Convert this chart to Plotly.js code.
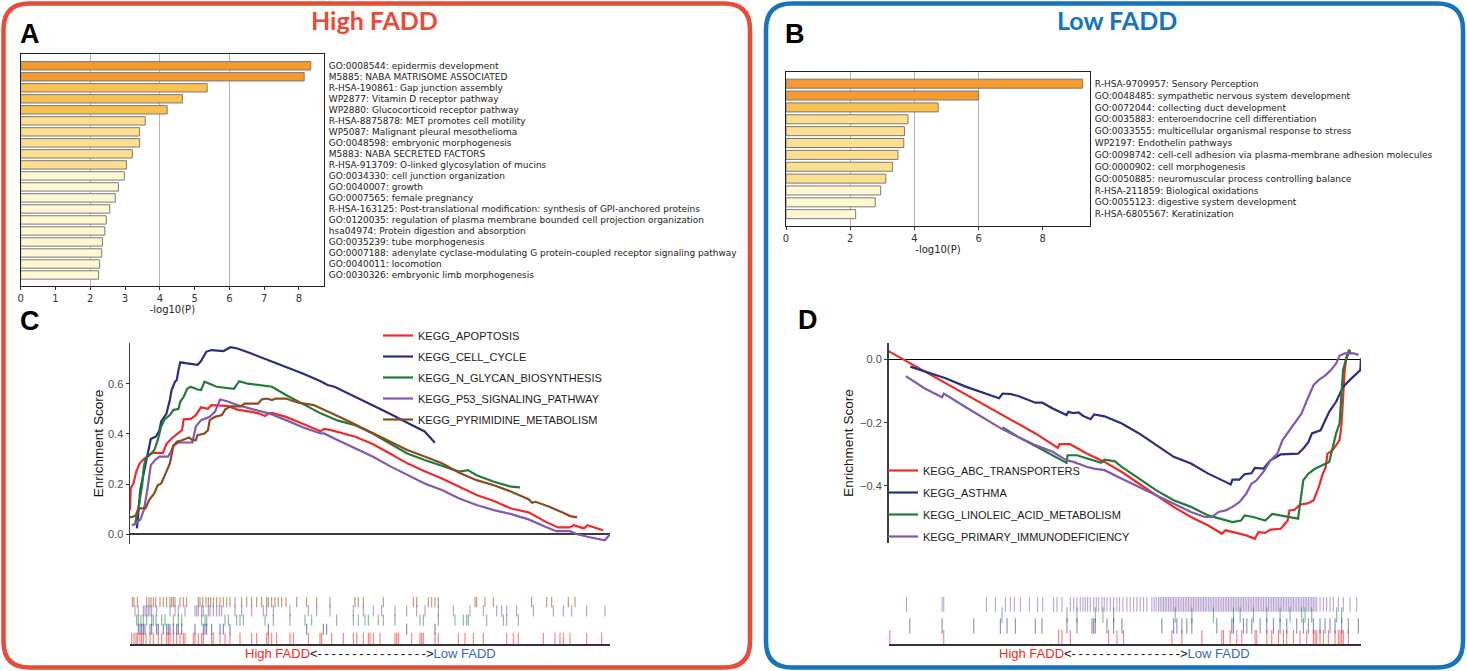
<!DOCTYPE html>
<html><head><meta charset="utf-8">
<script src="https://cdn.plot.ly/plotly-3.0.1.min.js"></script>
<style>html,body{margin:0;padding:0;background:#fff}#chart{width:1467px;height:671px}</style>
</head><body><div id="chart"></div>
<script>
// ---------------- Panel A (High FADD enrichment) ----------------
const aTerms = [
"GO:0008544: epidermis development",
"M5885: NABA MATRISOME ASSOCIATED",
"R-HSA-190861: Gap junction assembly",
"WP2877: Vitamin D receptor pathway",
"WP2880: Glucocorticoid receptor pathway",
"R-HSA-8875878: MET promotes cell motility",
"WP5087: Malignant pleural mesothelioma",
"GO:0048598: embryonic morphogenesis",
"M5883: NABA SECRETED FACTORS",
"R-HSA-913709: O-linked glycosylation of mucins",
"GO:0034330: cell junction organization",
"GO:0040007: growth",
"GO:0007565: female pregnancy",
"R-HSA-163125: Post-translational modification: synthesis of GPI-anchored proteins",
"GO:0120035: regulation of plasma membrane bounded cell projection organization",
"hsa04974: Protein digestion and absorption",
"GO:0035239: tube morphogenesis",
"GO:0007188: adenylate cyclase-modulating G protein-coupled receptor signaling pathway",
"GO:0040011: locomotion",
"GO:0030326: embryonic limb morphogenesis"];
const aLogP = [8.34,8.15,5.36,4.65,4.21,3.58,3.42,3.42,3.21,3.04,2.98,2.81,2.72,2.56,2.46,2.42,2.35,2.33,2.27,2.24];
const aTicks = [0,1,2,3,4,5,6,7,8];

// ---------------- Panel B (Low FADD enrichment) ----------------
const bTerms = [
"R-HSA-9709957: Sensory Perception",
"GO:0048485: sympathetic nervous system development",
"GO:0072044: collecting duct development",
"GO:0035883: enteroendocrine cell differentiation",
"GO:0033555: multicellular organismal response to stress",
"WP2197: Endothelin pathways",
"GO:0098742: cell-cell adhesion via plasma-membrane adhesion molecules",
"GO:0000902: cell morphogenesis",
"GO:0050885: neuromuscular process controlling balance",
"R-HSA-211859: Biological oxidations",
"GO:0055123: digestive system development",
"R-HSA-6805567: Keratinization"];
const bLogP = [9.24,6.00,4.74,3.80,3.69,3.67,3.49,3.32,3.11,2.95,2.78,2.17];
const bTicks = [0,2,4,6,8];

// ---------------- Panel C (GSEA, High FADD) ----------------
const cNames = ["KEGG_APOPTOSIS","KEGG_CELL_CYCLE","KEGG_N_GLYCAN_BIOSYNTHESIS","KEGG_P53_SIGNALING_PATHWAY","KEGG_PYRIMIDINE_METABOLISM"];
const cApopRank = [0,2,10,18,28,40,55,65,95,105,120,135,150,155,175,190,205,225,235,280,310,350,370,390,398,410,450,500,550,560,580,650,700,750,800,850,900,950,1000,1050,1100,1150,1200,1235,1270,1280,1310,1320,1350,1365];
const cApopES = [0.097,0.183,0.203,0.25,0.283,0.30,0.316,0.325,0.325,0.36,0.382,0.40,0.415,0.458,0.46,0.475,0.506,0.50,0.515,0.512,0.497,0.488,0.482,0.471,0.48,0.484,0.468,0.44,0.411,0.42,0.415,0.389,0.36,0.322,0.283,0.252,0.223,0.19,0.157,0.133,0.103,0.088,0.05,0.028,0.028,0.037,0.024,0.037,0.024,0.017];
const cCycleRank = [20,25,30,45,55,60,75,85,90,105,115,120,130,135,140,145,170,195,205,220,235,270,290,310,350,400,450,500,550,570,590,650,700,750,800,850,880];
const cCycleES = [0.024,0.097,0.18,0.28,0.35,0.38,0.39,0.415,0.45,0.48,0.535,0.575,0.608,0.615,0.655,0.685,0.68,0.675,0.69,0.727,0.734,0.73,0.745,0.74,0.72,0.694,0.667,0.64,0.61,0.595,0.588,0.548,0.515,0.48,0.445,0.41,0.365];
const cGlycanRank = [15,25,35,40,45,60,70,80,90,100,115,125,140,145,155,165,175,195,205,215,230,250,300,315,340,370,410,450,500,550,600,650,700,750,800,850,900,950,975,1000,1050,1100,1125];
const cGlycanES = [0.044,0.11,0.196,0.27,0.30,0.32,0.335,0.375,0.43,0.458,0.475,0.495,0.50,0.528,0.548,0.58,0.588,0.577,0.575,0.608,0.60,0.588,0.58,0.61,0.60,0.594,0.588,0.555,0.518,0.482,0.453,0.435,0.402,0.362,0.322,0.296,0.272,0.25,0.256,0.236,0.21,0.19,0.187];
const cP53Rank = [5,15,30,40,50,60,75,85,110,120,125,140,180,190,205,230,245,260,280,310,350,400,450,500,550,560,600,650,700,750,800,850,900,950,1000,1050,1100,1150,1200,1230,1270,1290,1320,1350,1370,1385];
const cP53ES = [0.037,0.041,0.06,0.097,0.177,0.276,0.30,0.31,0.31,0.335,0.355,0.366,0.366,0.43,0.455,0.468,0.488,0.537,0.53,0.515,0.50,0.482,0.455,0.426,0.402,0.402,0.375,0.342,0.31,0.272,0.236,0.203,0.177,0.143,0.117,0.097,0.081,0.06,0.03,0.013,0.013,0.001,-0.009,-0.016,-0.023,0.0];
const cPyrRank = [0,15,25,45,55,70,80,90,105,115,125,135,150,160,170,180,190,195,215,225,230,245,265,275,290,320,330,370,380,395,410,420,450,470,490,530,570,610,650,700,750,800,850,900,950,1000,1050,1100,1150,1160,1170,1210,1250,1270,1290];
const cPyrES = [0.068,0.073,0.104,0.104,0.137,0.163,0.196,0.203,0.25,0.283,0.35,0.369,0.375,0.382,0.386,0.375,0.375,0.395,0.402,0.415,0.455,0.468,0.475,0.498,0.51,0.51,0.521,0.521,0.537,0.541,0.535,0.541,0.541,0.531,0.524,0.515,0.488,0.464,0.438,0.404,0.373,0.336,0.31,0.283,0.246,0.216,0.196,0.17,0.14,0.126,0.13,0.11,0.086,0.073,0.068];
// hit positions (rug) for panel C
const cHitsPyr = [37,42,52,80,87,93,100,107,120,130,140,150,155,160,165,180,190,200,235,240,248,258,265,272,280,290,300,310,320,330,345,365,380,395,410,425,440,445,455,465,475,485,498,530,560,590,630,705,715,730,790,880,890,925,935,945,955,1065,1070,1095,1120,1235,1280,1295,1345,1365];
const cHitsP53 = [45,55,70,75,80,85,90,95,110,150,165,175,195,225,230,235,245,250,265,270,280,290,298,305,345,365,395,430,440,460,510,565,590,630,700,730,760,785,825,860,890,915,955,1000,1050,1090,1130,1145,1160,1190,1240,1300,1330,1355,1400,1455];
const cHitsGlycan = [50,55,63,70,80,95,100,108,125,135,160,175,185,245,255,260,315,325,350,360,370,435,460,510,555,575,650,700,715,735,745,775,790,825,900,910,955,1005,1030,1040,1045,1100,1150,1160,1195];
const cHitsCycle = [55,60,65,70,75,90,95,110,115,130,140,145,150,160,170,175,185,225,250,255,260,275,300,310,330,445,560,610,620,860,945];
const cHitsApop = [35,42,48,52,60,65,70,78,90,100,115,125,140,145,150,160,170,180,190,195,220,225,235,245,250,275,280,300,315,330,360,395,410,440,445,455,470,510,520,565,600,605,635,670,700,710,730,745,750,760,780,825,830,835,875,900,905,910,945,955,1015,1035,1060,1090,1160,1180,1195,1270,1305,1320,1330,1350,1400,1445];

// ---------------- Panel D (GSEA, Low FADD) ----------------
const dNames = ["KEGG_ABC_TRANSPORTERS","KEGG_ASTHMA","KEGG_LINOLEIC_ACID_METABOLISM","KEGG_PRIMARY_IMMUNODEFICIENCY"];
const dAbcRank = [0,125,275,425,490,495,525,575,625,675,725,775,825,875,925,965,975,995,1015,1035,1060,1070,1090,1105,1135,1155,1160,1175,1190,1215,1230,1245,1255,1265,1270,1285,1295,1305,1310,1315,1320,1325,1332,1337];
const dAbcES = [0.026,-0.05,-0.141,-0.234,-0.28,-0.268,-0.268,-0.298,-0.324,-0.356,-0.393,-0.43,-0.466,-0.498,-0.525,-0.551,-0.54,-0.545,-0.551,-0.556,-0.567,-0.546,-0.548,-0.538,-0.535,-0.509,-0.477,-0.475,-0.459,-0.454,-0.445,-0.403,-0.366,-0.34,-0.298,-0.287,-0.271,-0.255,-0.213,-0.118,-0.034,0.008,0.03,0.019];
const dAsthmaRank = [63,165,225,275,320,330,355,375,425,445,475,515,520,535,550,565,585,595,625,675,725,775,825,875,925,975,990,995,1015,1030,1050,1060,1085,1105,1120,1135,1185,1200,1215,1225,1250,1265,1275,1295,1315,1335,1365,1367];
const dAsthmaES = [-0.023,-0.06,-0.087,-0.106,-0.123,-0.108,-0.11,-0.116,-0.137,-0.137,-0.155,-0.176,-0.166,-0.17,-0.168,-0.18,-0.189,-0.174,-0.18,-0.203,-0.234,-0.271,-0.308,-0.329,-0.361,-0.387,-0.395,-0.38,-0.38,-0.363,-0.36,-0.343,-0.345,-0.319,-0.31,-0.3,-0.298,-0.282,-0.261,-0.234,-0.224,-0.192,-0.166,-0.134,-0.087,-0.065,-0.034,0.003];
const dLinoRank = [330,375,425,515,518,545,575,615,625,655,675,725,775,825,875,925,975,995,1020,1030,1055,1090,1110,1135,1185,1200,1215,1235,1275,1295,1305,1315,1323,1335];
const dLinoES = [-0.215,-0.245,-0.274,-0.327,-0.303,-0.303,-0.313,-0.327,-0.317,-0.322,-0.34,-0.377,-0.414,-0.445,-0.466,-0.493,-0.509,-0.514,-0.509,-0.493,-0.498,-0.509,-0.488,-0.493,-0.503,-0.382,-0.361,-0.345,-0.324,-0.234,-0.203,-0.034,-0.002,0.03];
const dImmRank = [50,105,155,160,225,275,325,375,425,475,515,535,575,595,625,675,725,775,825,875,915,935,955,975,995,1015,1035,1050,1065,1085,1105,1125,1140,1160,1175,1195,1215,1230,1245,1265,1280,1295,1305,1320,1345,1360];
const dImmES = [-0.053,-0.092,-0.12,-0.108,-0.152,-0.185,-0.218,-0.245,-0.271,-0.292,-0.319,-0.324,-0.34,-0.345,-0.35,-0.377,-0.403,-0.43,-0.456,-0.482,-0.498,-0.498,-0.482,-0.477,-0.466,-0.451,-0.424,-0.393,-0.382,-0.355,-0.319,-0.298,-0.255,-0.224,-0.203,-0.171,-0.118,-0.081,-0.065,-0.05,-0.034,-0.013,0.011,0.019,0.019,0.014];
// hit positions (rug) for panel D
const dHitsImm = [78,185,190,318,345,375,390,402,420,447,472,487,520,530,545,570,580,590,600,608,615,622,630,640,648,655,665,672,680,690,700,710,718,728,740,750,760,770,780,790,800,815,822,828,835,840,845,850,855,860,865,870,875,880,885,890,895,900,905,910,915,920,925,930,935,940,945,950,955,960,965,970,975,980,985,990,995,1000,1005,1010,1015,1020,1025,1030,1035,1040,1045,1050,1055,1060,1065,1070,1075,1080,1085,1090,1095,1100,1105,1110,1115,1120,1125,1130,1135,1140,1145,1150,1155,1160,1165,1170,1175,1180,1185,1190,1195,1200,1205,1210,1215,1220,1225,1230,1235,1240,1245,1250,1255,1260,1265,1270,1275,1280,1285,1290,1295,1300,1305,1310,1320,1330,1340,1350,1360,1375,1390,1410,1430];
const dHitsLino = [365,560,590,645,668,700,885,935,1000,1060,1080,1120,1160,1200,1230,1265,1275,1295,1370,1385];
const dHitsAsthma = [88,185,280,360,380,405,465,485,560,590,635,640,645,680,700,725,845,880,890,905,920,935,1010,1055,1060,1090,1100,1115,1140,1160,1180,1200,1220,1250,1270,1285,1300,1320,1335,1350,1365,1385,1405,1435];
const dHitsAbc = [28,190,535,545,570,685,710,730,875,905,965,1025,1030,1050,1070,1085,1125,1130,1160,1175,1195,1210,1220,1240,1260,1280,1300,1305,1310,1320,1330,1345,1365,1375,1380,1385,1390,1405];

// ---------------- helpers / styles ----------------
const W = 1467, H = 671;
const px = x => x / W, py = y => 1 - y / H;
function barColor(v){ return v >= 6 ? '#F6992E' : v >= 4 ? '#FCBF52' : v >= 3 ? '#FEDF90' : '#FFF8D2'; }
const RED='#EE2A2A', NAVY='#2A2D80', GREEN='#237A3A', PURPLE='#8059B0', BROWN='#8C4B1E';
const SANS='Liberation Sans, Arial, sans-serif';

const traces = [];
traces.push({type:'bar', orientation:'h', x:aLogP, y:aTerms, xaxis:'x', yaxis:'y', width:0.76,
  marker:{color:aLogP.map(barColor), line:{color:'#7a7a7a', width:1}}, showlegend:false, hoverinfo:'skip'});
traces.push({type:'bar', orientation:'h', x:bLogP, y:bTerms, xaxis:'x2', yaxis:'y2', width:0.76,
  marker:{color:bLogP.map(barColor), line:{color:'#7a7a7a', width:1}}, showlegend:false, hoverinfo:'skip'});

const cSeries = [[cApopRank,cApopES,RED],[cCycleRank,cCycleES,NAVY],[cGlycanRank,cGlycanES,GREEN],[cP53Rank,cP53ES,PURPLE],[cPyrRank,cPyrES,BROWN]];
cSeries.forEach((s,i)=>traces.push({type:'scatter', mode:'lines', x:s[0], y:s[1], xaxis:'x3', yaxis:'y3',
  name:cNames[i], legend:'legend', legendgroup:'c'+i, line:{color:s[2], width:2.2}, hoverinfo:'skip'}));
const dSeries = [[dAbcRank,dAbcES,RED],[dAsthmaRank,dAsthmaES,NAVY],[dLinoRank,dLinoES,GREEN],[dImmRank,dImmES,PURPLE]];
dSeries.forEach((s,i)=>traces.push({type:'scatter', mode:'lines', x:s[0], y:s[1], xaxis:'x5', yaxis:'y5',
  name:dNames[i], legend:'legend2', legendgroup:'d'+i, line:{color:s[2], width:2.2}, hoverinfo:'skip'}));

function rug(hits,row,color,xa,ya,size){
  return {type:'scatter', mode:'markers', x:hits, y:hits.map(()=>row), xaxis:xa, yaxis:ya, showlegend:false, hoverinfo:'skip',
    marker:{symbol:'line-ns', size:size, color:color, line:{color:color, width:1.1}}};
}
traces.push(rug(cHitsPyr,4,'rgba(140,75,30,0.6)','x4','y4',8));
traces.push(rug(cHitsP53,3,'rgba(128,89,176,0.6)','x4','y4',8));
traces.push(rug(cHitsGlycan,2,'rgba(35,122,58,0.55)','x4','y4',8));
traces.push(rug(cHitsCycle,1,'rgba(42,45,128,0.6)','x4','y4',8));
traces.push(rug(cHitsApop,0,'rgba(238,42,42,0.6)','x4','y4',8));
traces.push(rug(dHitsImm,3,'rgba(128,89,176,0.55)','x6','y6',11));
traces.push(rug(dHitsLino,2,'rgba(35,122,58,0.55)','x6','y6',11));
traces.push(rug(dHitsAsthma,1,'rgba(42,45,128,0.55)','x6','y6',11));
traces.push(rug(dHitsAbc,0,'rgba(238,42,42,0.6)','x6','y6',10));

const barX = (dom, rng, ticks) => ({domain:dom, range:rng, tickvals:ticks, ticks:'outside', ticklen:3, tickcolor:'#333',
  tickfont:{family:'DejaVu Sans', size:10, color:'#333'}, showline:true, mirror:true, linecolor:'#222', linewidth:1,
  showgrid:false, zeroline:false, minor:{tickvals:[2,4,6], showgrid:true, gridcolor:'#b5b5b5', gridwidth:1, ticks:''},
  title:{text:'-log10(P)', font:{family:'DejaVu Sans', size:10, color:'#222'}, standoff:2}});
const barY = (dom, rng) => ({domain:dom, type:'category', range:rng, side:'right', ticks:'', showline:true, mirror:true,
  linecolor:'#222', linewidth:1, showgrid:false, zeroline:false, ticklabelstandoff:2,
  tickfont:{family:'DejaVu Sans', size:9, color:'#222'}});

function roundRect(x0,y0,x1,y1,r){
  const L=px(x0), R=px(x1), T=py(y0), B=py(y1), rx=r/W, ry=r/H;
  return `M${L+rx},${T} L${R-rx},${T} Q${R},${T} ${R},${T-ry} L${R},${B+ry} Q${R},${B} ${R-rx},${B} L${L+rx},${B} Q${L},${B} ${L},${B+ry} L${L},${T-ry} Q${L},${T} ${L+rx},${T} Z`;
}

const dashes = Array(16).fill('-').join('\u2009');
const fadd = `<span style="color:#EE2A2A">High FADD</span>&lt;${dashes}&gt;<span style="color:#3A66BF">Low FADD</span>`;

const layout = {
  width:W, height:H, margin:{l:0,r:0,t:0,b:0}, paper_bgcolor:'#fff', plot_bgcolor:'rgba(0,0,0,0)',
  font:{family:'DejaVu Sans', color:'#222'},
  xaxis: barX([px(20.7),px(324)],[0,8.72],aTicks),
  yaxis: barY([py(286),py(54)],[20.0,-1.07]),
  xaxis2: Object.assign(barX([px(786),px(1090)],[0,9.47],bTicks),{anchor:'y2'}),
  yaxis2: Object.assign(barY([py(225.7),py(71.7)],[11.97,-1.01]),{anchor:'x2'}),
  xaxis3:{domain:[px(130),px(610)], range:[0,1385], anchor:'y3', showline:false, showticklabels:false, ticks:'', showgrid:false, zeroline:false},
  yaxis3:{domain:[py(544),py(343)], range:[-0.038,0.762], anchor:'x3', showline:true, linecolor:'#3c3c3c', linewidth:1.5,
    ticks:'outside', ticklen:3, tickcolor:'#333', tickvals:[0,0.2,0.4,0.6], tickformat:'.1f',
    tickfont:{family:SANS, size:11, color:'#4d4d4d'}, showgrid:false, zeroline:true, zerolinecolor:'#3c3c3c', zerolinewidth:2,
    title:{text:'Enrichment Score', font:{family:SANS, size:13.5, color:'#111'}, standoff:1}},
  xaxis4:{domain:[px(130),px(610)], range:[30,1470], anchor:'y4', showline:true, linecolor:'#333', linewidth:2, showticklabels:false, ticks:'', showgrid:false, zeroline:false},
  yaxis4:{domain:[py(644),py(597)], range:[-0.6,4.5], anchor:'x4', visible:false},
  xaxis5:{domain:[px(888.5),px(1361)], range:[0,1367], anchor:'y5', showline:false, showticklabels:false, ticks:'', showgrid:false, zeroline:false},
  yaxis5:{domain:[py(543.3),py(342.7)], range:[-0.581,0.0525], anchor:'x5', showline:true, linecolor:'#3c3c3c', linewidth:1.5,
    ticks:'outside', ticklen:3, tickcolor:'#333', tickvals:[0,-0.2,-0.4], tickformat:'.1f',
    tickfont:{family:SANS, size:11, color:'#4d4d4d'}, showgrid:false, zeroline:true, zerolinecolor:'#000', zerolinewidth:1,
    title:{text:'Enrichment Score', font:{family:SANS, size:13.5, color:'#111'}, standoff:3}},
  xaxis6:{domain:[px(888.5),px(1361)], range:[24,1443], anchor:'y6', showline:true, linecolor:'#333', linewidth:2, showticklabels:false, ticks:'', showgrid:false, zeroline:false},
  yaxis6:{domain:[py(644),py(597)], range:[-0.64,3.64], anchor:'x6', visible:false},
  legend:{x:px(378), y:py(321), xanchor:'left', yanchor:'top', bgcolor:'rgba(0,0,0,0)', borderwidth:0,
    font:{family:SANS, size:11, color:'#1a1a1a'}, tracegroupgap:2, traceorder:'grouped'},
  legend2:{x:px(883), y:py(456), xanchor:'left', yanchor:'top', bgcolor:'rgba(0,0,0,0)', borderwidth:0,
    font:{family:SANS, size:11, color:'#1a1a1a'}, tracegroupgap:3, traceorder:'grouped'},
  shapes:[
    {type:'path', xref:'paper', yref:'paper', path:roundRect(3.5,3.5,750,667.5,26), line:{color:'#E84C38', width:4.5}, fillcolor:'rgba(0,0,0,0)'},
    {type:'path', xref:'paper', yref:'paper', path:roundRect(766,3.5,1463,667.5,26), line:{color:'#1673BE', width:4.5}, fillcolor:'rgba(0,0,0,0)'}
  ],
  annotations:[
    {text:'High FADD', x:px(374), y:py(20), xref:'paper', yref:'paper', showarrow:false, xanchor:'center', yanchor:'middle',
      font:{family:'Lato', size:25, weight:700, color:'#E84C38'}},
    {text:'Low FADD', x:px(1117), y:py(20), xref:'paper', yref:'paper', showarrow:false, xanchor:'center', yanchor:'middle',
      font:{family:'Lato', size:25, weight:700, color:'#1673BE'}},
    {text:'A', x:px(30), y:py(34), xref:'paper', yref:'paper', showarrow:false, xanchor:'center', yanchor:'middle', font:{family:SANS, size:27, weight:700, color:'#000'}},
    {text:'B', x:px(795), y:py(34), xref:'paper', yref:'paper', showarrow:false, xanchor:'center', yanchor:'middle', font:{family:SANS, size:27, weight:700, color:'#000'}},
    {text:'C', x:px(30), y:py(321), xref:'paper', yref:'paper', showarrow:false, xanchor:'center', yanchor:'middle', font:{family:SANS, size:27, weight:700, color:'#000'}},
    {text:'D', x:px(808), y:py(320), xref:'paper', yref:'paper', showarrow:false, xanchor:'center', yanchor:'middle', font:{family:SANS, size:27, weight:700, color:'#000'}},
    {text:fadd, x:px(370), y:py(653), xref:'paper', yref:'paper', showarrow:false, xanchor:'center', yanchor:'middle', font:{family:SANS, size:13, color:'#111'}},
    {text:fadd, x:px(1124), y:py(653), xref:'paper', yref:'paper', showarrow:false, xanchor:'center', yanchor:'middle', font:{family:SANS, size:13, color:'#111'}}
  ]
};

Plotly.newPlot('chart', traces, layout, {displayModeBar:false, staticPlot:true});
</script>
</body></html>
